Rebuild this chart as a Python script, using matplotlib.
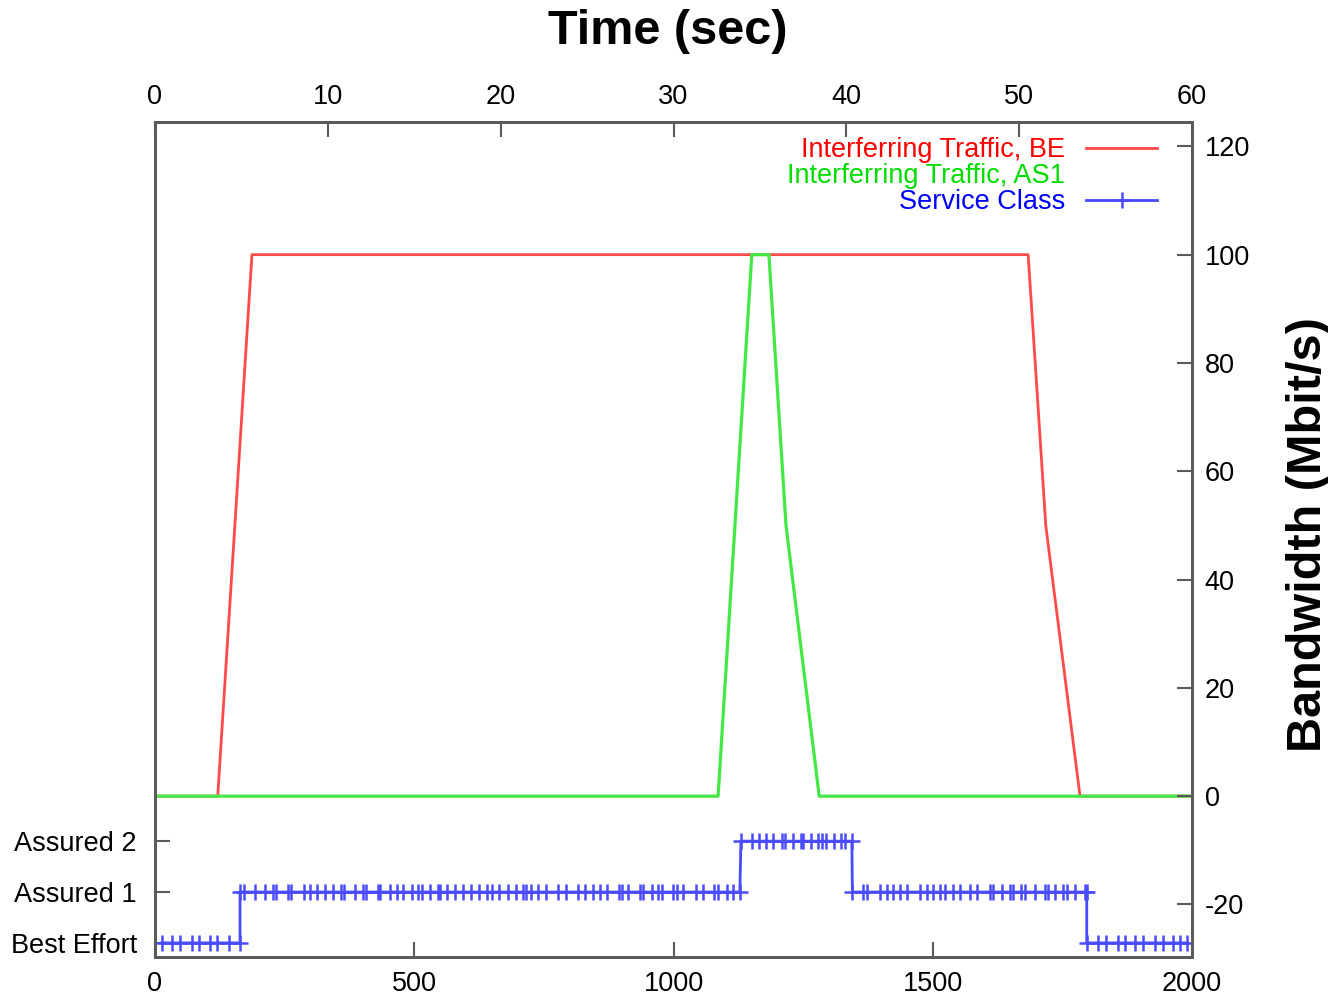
import matplotlib.pyplot as plt

plt.rcParams['font.family'] = ['Liberation Sans', 'DejaVu Sans']
plt.rcParams['axes.unicode_minus'] = False

# interfering traffic, best effort (sample index, Mbit/s)
be_x = [0, 121, 187, 1684, 1718, 1784, 2000]
be_y = [0, 0, 100, 100, 50, 0, 0]

# interfering traffic, assured 1
as1_x = [0, 1086, 1151, 1184, 1217, 1281, 2000]
as1_y = [0, 0, 100, 100, 50, 0, 0]

# service class samples, one list per segment
seg_be_a = [13, 32, 48, 71, 85, 107, 120, 143, 164]
seg_as1_a = [164, 172, 193, 212, 227, 233, 256, 263, 287, 299, 312, 328, 343, 358, 364,
             386, 401, 407, 430, 434, 453, 466, 478, 495, 507, 514, 530, 545, 550, 563,
             578, 594, 609, 625, 640, 649, 664, 681, 696, 709, 715, 726, 739, 754, 778,
             793, 815, 829, 844, 858, 871, 894, 900, 912, 935, 942, 958, 971, 977, 999,
             1006, 1019, 1043, 1057, 1078, 1086, 1103, 1115, 1128]
seg_as2 = [1130, 1151, 1164, 1178, 1192, 1209, 1215, 1231, 1245, 1250, 1266, 1279, 1286,
           1294, 1310, 1324, 1331, 1344]
seg_as1_b = [1345, 1366, 1373, 1398, 1411, 1424, 1437, 1450, 1475, 1488, 1501, 1514, 1524,
             1540, 1553, 1572, 1586, 1610, 1617, 1633, 1649, 1655, 1671, 1678, 1697, 1716,
             1723, 1735, 1751, 1758, 1774, 1793, 1797]
seg_be_b = [1797, 1819, 1835, 1858, 1871, 1890, 1906, 1929, 1945, 1964, 1977, 1990]

class_names = ['Best Effort', 'Assured 1', 'Assured 2']
class_levels = [-27.1, -17.7, -8.3]

segments = [(seg_be_a, 0), (seg_as1_a, 1), (seg_as2, 2), (seg_as1_b, 1), (seg_be_b, 0)]
svc_x = []
svc_y = []
for seg, c in segments:
    svc_x += seg
    svc_y += [class_levels[c]] * len(seg)

red = '#ff4a4a'
green = '#44e844'
blue = '#4a4aff'
grey = '#5a5a5a'

fig = plt.figure(figsize=(13.28, 9.96), dpi=100)
ax = fig.add_axes([155/1328, 1 - 957/996, (1192-155)/1328, (957-122)/996])

ax.plot(be_x, be_y, color=red, lw=2, label='Interferring Traffic, BE')
ax.plot(as1_x, as1_y, color=green, lw=2.3, label='Interferring Traffic, AS1')
ax.plot(svc_x, svc_y, color=blue, lw=2, marker='+', markersize=11, mew=1.8,
        label='Service Class')

ax.set_xlim(0, 2000)
ax.set_ylim(-29.7, 124.5)
ax.set_xticks([0, 500, 1000, 1500, 2000])
ax.set_yticks(class_levels, class_names)

ax2 = ax.twinx()
ax2.set_ylim(-29.7, 124.5)
ax2.set_yticks([-20, 0, 20, 40, 60, 80, 100, 120])

ax3 = ax.twiny()
ax3.set_xlim(0, 60)
ax3.set_xticks([0, 10, 20, 30, 40, 50, 60])

for a in (ax, ax2, ax3):
    a.tick_params(direction='in', length=11, width=1.5, color=grey, labelsize=19.5)
    for s in a.spines.values():
        s.set_color(grey)
        s.set_linewidth(1.8)
ax.tick_params(axis='y', pad=13)
ax.tick_params(axis='x', pad=10)
ax2.tick_params(axis='y', pad=9)
ax3.tick_params(axis='x', pad=9)

leg = ax.legend(loc='upper right', bbox_to_anchor=(0.987, 1.008), markerfirst=False,
                frameon=False, fontsize=19.5, labelcolor=['#ff0000', '#00dd00', '#0000ff'],
                handlelength=2.6, handletextpad=0.8, labelspacing=0.0, borderaxespad=0.4)
leg.legend_handles[1].set_visible(False)

fig.text(0.503, 0.968, 'Time (sec)', ha='center', va='center', fontsize=35, fontweight='bold')
fig.text(0.985, 0.463, 'Bandwidth (Mbit/s)', ha='center', va='center', rotation=90,
         fontsize=35, fontweight='bold')

fig.savefig('out.png', dpi=100)
